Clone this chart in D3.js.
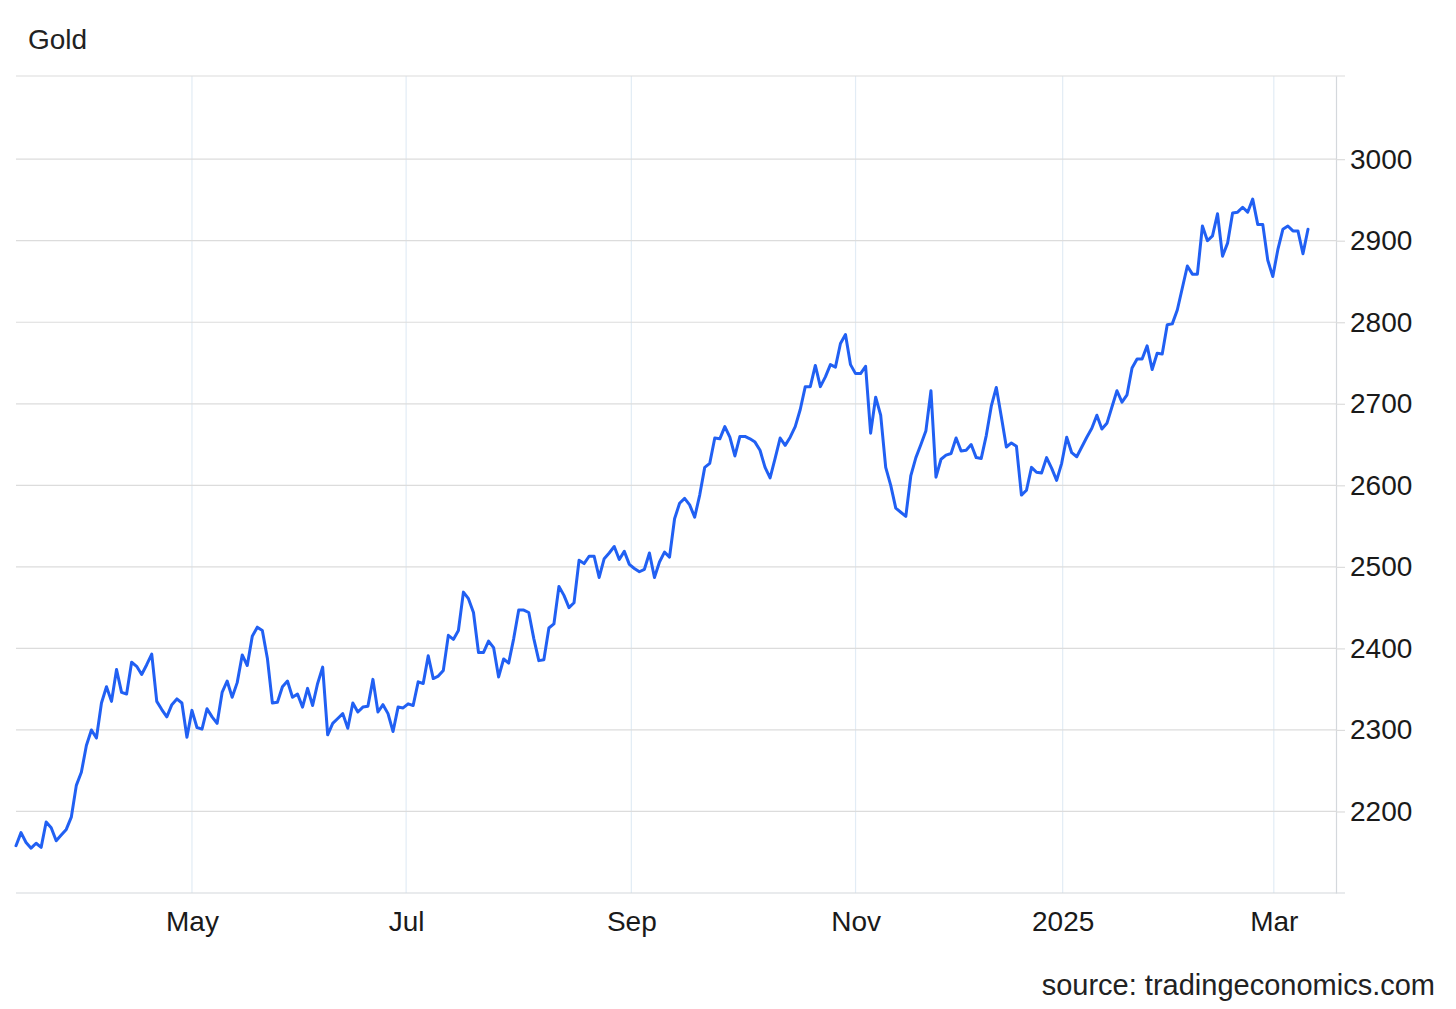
<!DOCTYPE html>
<html>
<head>
<meta charset="utf-8">
<script src="https://cdn.jsdelivr.net/npm/d3@7"></script>
<style>
  html, body { margin: 0; padding: 0; background: #ffffff; }
  svg { display: block; font-family: "Liberation Sans", Arial, Helvetica, sans-serif; }
</style>
</head>
<body>
<div id="chart"></div>
<script>
// Gold price, daily trading sessions (approx. 12 Mar 2024 – 11 Mar 2025), USD/t.oz
const values = [
  // Mar–Apr 2024
  2158, 2174, 2162, 2155, 2161, 2156, 2187, 2180, 2164, 2171, 2178, 2193, 2232, 2248, 2281, 2300, 2290, 2333, 2353, 2335,
  2374, 2346, 2344, 2383, 2378, 2368, 2380, 2393, 2335, 2325, 2316, 2331, 2338, 2333, 2291,
  // May–Jun
  2324, 2303, 2301, 2326, 2316, 2308, 2346, 2360, 2340, 2358, 2392, 2379, 2415, 2426, 2422, 2388, 2333, 2334, 2353, 2360,
  2340, 2344, 2328, 2351, 2330, 2357, 2377, 2294, 2308, 2314, 2320, 2302, 2333, 2322,
  2328, 2329, 2362, 2322, 2331, 2320, 2298, 2328, 2327,
  // Jul–Aug
  2332, 2330, 2359, 2357, 2391, 2363, 2366, 2373, 2416, 2411, 2422, 2469, 2461, 2444, 2395, 2395, 2409, 2401, 2365, 2387,
  2382, 2412, 2447, 2447, 2444,
  2412, 2385, 2386, 2425, 2430, 2476, 2465, 2450, 2456, 2508, 2504, 2513, 2513, 2487, 2510, 2517, 2525, 2509, 2519,
  // Sep–Oct
  2503, 2498, 2494, 2497, 2517, 2487, 2506, 2518, 2512, 2559, 2578, 2584, 2576, 2561,
  2588, 2622, 2627, 2658, 2657, 2672, 2659, 2636, 2660, 2660, 2657, 2653, 2643, 2622, 2609, 2633, 2658, 2649, 2659, 2672,
  2693, 2721, 2721, 2747, 2721, 2733, 2748, 2745, 2774, 2785, 2748,
  // Nov–Dec
  2737, 2737, 2746,
  2664, 2708, 2686, 2622, 2600, 2572, 2567, 2562, 2612, 2634, 2650, 2667, 2716, 2610, 2632, 2637, 2639, 2658, 2642, 2643,
  2650, 2634, 2633, 2661, 2697, 2720, 2684, 2647, 2652, 2648, 2588, 2594, 2622, 2616,
  2615, 2634, 2621, 2606,
  // Jan–Feb 2025
  2627, 2659, 2640, 2635, 2647, 2659, 2670, 2686, 2669, 2676, 2696, 2716, 2702, 2711, 2744, 2755, 2755, 2771, 2742, 2762,
  2761, 2797, 2798, 2815,
  2842, 2869, 2859, 2859, 2918, 2900, 2906, 2933, 2881, 2897, 2934, 2935, 2941, 2935, 2951, 2920, 2920, 2876,
  // Mar 2025
  2856, 2889, 2914, 2918, 2912, 2912, 2884, 2914
];

// month ticks: label and session position (index into values) where the month starts
const tickLabels = ["May", "Jul", "Sep", "Nov", "2025", "Mar"];
const tickSessions = [35, 77.6, 122.4, 167, 208.2, 250.2];

// value axis ticks
const yTickValues = [2200, 2300, 2400, 2500, 2600, 2700, 2800, 2900, 3000];

const title = "Gold";
const source = "source: tradingeconomics.com";

// ---------- drawing ----------
const W = 1456, H = 1009;
const plot = { left: 16, right: 1336, top: 76, bottom: 893 };

const svg = d3.select("#chart").append("svg")
  .attr("width", W).attr("height", H)
  .attr("viewBox", `0 0 ${W} ${H}`);

svg.append("rect").attr("width", W).attr("height", H).attr("fill", "#ffffff");

const x = d3.scaleLinear()
  .domain([0, values.length - 1])
  .range([plot.left, 1308]);

const y = d3.scaleLinear()
  .domain([2100, 3102])
  .range([plot.bottom, plot.top]);

// vertical gridlines (month ticks)
svg.append("g")
  .selectAll("line")
  .data(tickSessions)
  .join("line")
  .attr("x1", d => x(d)).attr("x2", d => x(d))
  .attr("y1", plot.top).attr("y2", plot.bottom)
  .attr("stroke", "#e2ecf5")
  .attr("stroke-width", 1.2);

// horizontal gridlines
svg.append("g")
  .selectAll("line")
  .data(yTickValues)
  .join("line")
  .attr("x1", plot.left).attr("x2", plot.right)
  .attr("y1", d => y(d)).attr("y2", d => y(d))
  .attr("stroke", "#dcdcdc")
  .attr("stroke-width", 1.2);

// top frame line
svg.append("line")
  .attr("x1", plot.left).attr("x2", plot.right + 9)
  .attr("y1", plot.top).attr("y2", plot.top)
  .attr("stroke", "#dcdcdc").attr("stroke-width", 1.2);

// bottom axis line
svg.append("line")
  .attr("x1", plot.left).attr("x2", plot.right + 9)
  .attr("y1", plot.bottom).attr("y2", plot.bottom)
  .attr("stroke", "#d4d8dc").attr("stroke-width", 1.2);

// right axis
const yAxis = d3.axisRight(y)
  .tickValues(yTickValues)
  .tickSize(9)
  .tickSizeOuter(0)
  .tickPadding(5)
  .tickFormat(d3.format("d"));

const gy = svg.append("g")
  .attr("transform", `translate(${plot.right},0)`)
  .call(yAxis);
gy.select(".domain").attr("stroke", "#d4d8dc").attr("stroke-width", 1.2);
gy.selectAll(".tick line").attr("stroke", "#dcdcdc").attr("stroke-width", 1.2);
gy.selectAll(".tick text")
  .attr("fill", "#1a1a1a")
  .style("font-size", "28px")
  .style("font-family", "'Liberation Sans', Arial, sans-serif");

// bottom axis labels
const xAxis = d3.axisBottom(x)
  .tickValues(tickSessions)
  .tickSize(0)
  .tickPadding(18)
  .tickFormat((d, i) => tickLabels[i]);

const gx = svg.append("g")
  .attr("transform", `translate(0,${plot.bottom})`)
  .call(xAxis);
gx.select(".domain").remove();
gx.selectAll(".tick text")
  .attr("fill", "#1a1a1a")
  .style("font-size", "28px")
  .style("font-family", "'Liberation Sans', Arial, sans-serif");

// price line
const line = d3.line()
  .x((d, i) => x(i))
  .y(d => y(d));

svg.append("path")
  .datum(values)
  .attr("d", line)
  .attr("fill", "none")
  .attr("stroke", "#2160f3")
  .attr("stroke-width", 3)
  .attr("stroke-linejoin", "round")
  .attr("stroke-linecap", "round");

// title
svg.append("text")
  .attr("x", 28).attr("y", 49)
  .attr("fill", "#222")
  .style("font-size", "28px")
  .text(title);

// source
svg.append("text")
  .attr("x", 1435).attr("y", 995)
  .attr("text-anchor", "end")
  .attr("fill", "#222")
  .style("font-size", "29px")
  .text(source);
</script>
</body>
</html>
